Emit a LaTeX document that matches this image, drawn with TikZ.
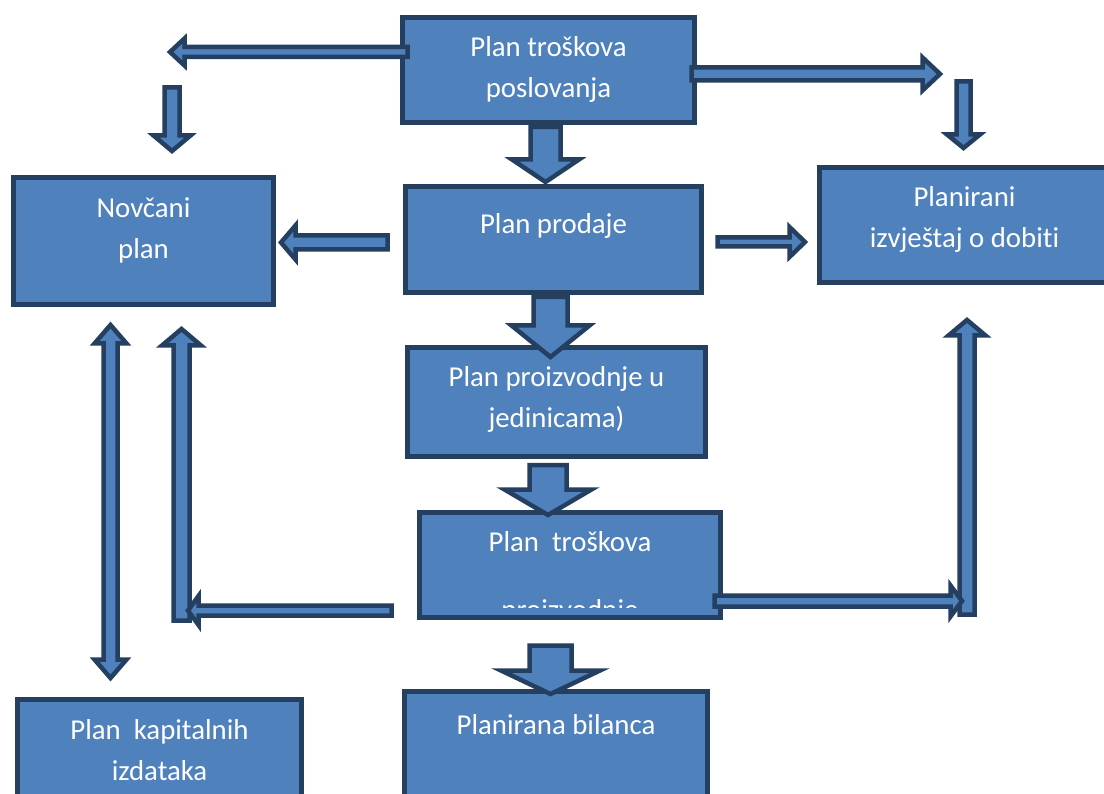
\documentclass[tikz,border=0pt]{standalone}
\usepackage{fontspec}
\setmainfont[Ligatures=NoCommon]{Carlito}
\usepackage{tikz}
\usetikzlibrary{calc,positioning}

\definecolor{planfill}{HTML}{4F81BD}
\definecolor{planline}{HTML}{243F60}

\tikzset{
  plan/.style={draw=planline, fill=planfill, line width=5pt, inner sep=0pt, outer sep=0pt},
  plantext/.style={text=white, inner sep=0pt, align=center, font=\fontsize{28.8}{41}\selectfont},
  barrow/.style={draw=planline, fill=planfill, line width=4.5pt},
}

% block arrow: from, to, shaft half width, head half width, head length
\newcommand{\blockarrow}[5]{%
  \draw[barrow] let \p1=(#1), \p2=(#2),
    \n1={atan2(\y2-\y1,\x2-\x1)}, \n2={veclen(\x2-\x1,\y2-\y1)} in
    [shift={(\p1)}, rotate=\n1]
    (0pt,{#3*1pt}) -- ({(\n2-#5)*1pt},{#3*1pt}) -- ({(\n2-#5)*1pt},{#4*1pt})
    -- ({\n2*1pt},0pt) -- ({(\n2-#5)*1pt},{-#4*1pt}) -- ({(\n2-#5)*1pt},{-#3*1pt})
    -- (0pt,{-#3*1pt}) -- cycle;}
% same, with a head at both ends
\newcommand{\dblockarrow}[5]{%
  \draw[barrow] let \p1=(#1), \p2=(#2),
    \n1={atan2(\y2-\y1,\x2-\x1)}, \n2={veclen(\x2-\x1,\y2-\y1)} in
    [shift={(\p1)}, rotate=\n1]
    (0pt,0pt) -- ({#5*1pt},{#4*1pt}) -- ({#5*1pt},{#3*1pt}) -- ({(\n2-#5)*1pt},{#3*1pt})
    -- ({(\n2-#5)*1pt},{#4*1pt}) -- ({\n2*1pt},0pt) -- ({(\n2-#5)*1pt},{-#4*1pt})
    -- ({(\n2-#5)*1pt},{-#3*1pt}) -- ({#5*1pt},{-#3*1pt}) -- ({#5*1pt},{-#4*1pt}) -- cycle;}

\begin{document}
\begin{tikzpicture}[x=1pt, y=-1pt]
    \useasboundingbox (0,0) rectangle (1104,794);
    \clip (0,0) rectangle (1104,794);

    % boxes
    \node[plan, minimum width=292pt, minimum height=105pt] (troskovi) at (548.5,70) {};
    \node[plan, minimum width=260pt, minimum height=127pt] (novcani) at (143.5,241) {};
    \node[plan, minimum width=296pt, minimum height=106pt] (prodaja) at (553.5,239.5) {};
    \node[plan, minimum width=290pt, minimum height=115pt] (dobit) at (964.5,225) {};
    \node[plan, minimum width=298pt, minimum height=109pt] (proizvodnja) at (556.5,402) {};
    \node[plan, minimum width=301pt, minimum height=105pt] (trosprod) at (570,565) {};
    \node[plan, minimum width=303pt, minimum height=137pt] (bilanca) at (556,760) {};
    \node[plan, minimum width=284pt, minimum height=129pt] (kapital) at (159.5,764) {};

    % texts
    \node[plantext, below=18.5pt of troskovi.north] (troskovi-t) {Plan troškova\\poslovanja};
    \node[plantext, below=19.5pt of novcani.north] (novcani-t) {Novčani\\plan};
    \node[plantext, below=26.5pt of prodaja.north] (prodaja-t) {Plan prodaje};
    \node[plantext, below=18.5pt of dobit.north] (dobit-t) {Planirani\\izvještaj o dobiti};
    \node[plantext, below=18.5pt of proizvodnja.north] (proizvodnja-t) {Plan proizvodnje u\\jedinicama)};
    \begin{scope}
      \clip ($(trosprod.north west)+(2.5pt,-2.5pt)$) rectangle ($(trosprod.south east)+(-2.5pt,10.5pt)$);
      \node[plantext, below=18.5pt of trosprod.north] (trosprod-t) {Plan\ \ troškova\\[27pt]proizvodnje};
    \end{scope}
    \node[plantext, below=22.5pt of bilanca.north] (bilanca-t) {Planirana bilanca};
    \node[plantext, below=19.5pt of kapital.north] (kapital-t) {Plan\ \ kapitalnih\\izdataka};

    % arrow ends
    \coordinate (tl-a) at (407.5,52);    \coordinate (tl-b) at (170,52);
    \coordinate (ld-a) at (172,87.5);    \coordinate (ld-b) at (172,151);
    \coordinate (tr-a) at (691.5,74);    \coordinate (tr-b) at (940,74);
    \coordinate (rd-a) at (963.5,81.5);  \coordinate (rd-b) at (963.5,148);
    \coordinate (m1-a) at (545.5,127);   \coordinate (m1-b) at (545.5,182);
    \coordinate (m2-a) at (550.5,297);   \coordinate (m2-b) at (550.5,357);
    \coordinate (m3-a) at (548,465);     \coordinate (m3-b) at (548,515);
    \coordinate (m4-a) at (550.5,645.5); \coordinate (m4-b) at (550.5,694);
    \coordinate (pl-a) at (387.5,242.5); \coordinate (pl-b) at (281,242.5);
    \coordinate (pr-a) at (717.5,242);   \coordinate (pr-b) at (805,242);
    \coordinate (rv-a) at (967,614.5);   \coordinate (rv-b) at (967,320);
    \coordinate (rh-a) at (714.5,601);   \coordinate (rh-b) at (962,601);
    \coordinate (lv-a) at (181.5,620.5); \coordinate (lv-b) at (181.5,329);
    \coordinate (lh-a) at (391.5,610.5); \coordinate (lh-b) at (188,610.5);
    \coordinate (kv-a) at (110.5,325);   \coordinate (kv-b) at (110.5,678);

    % arrows
    \blockarrow{tl-a}{tl-b}{5}{13.5}{14.5}
    \blockarrow{ld-a}{ld-b}{7.5}{18.5}{15.5}
    \blockarrow{tr-a}{tr-b}{6.5}{16.5}{17.5}
    \blockarrow{rd-a}{rd-b}{7}{16.5}{13.5}
    \blockarrow{m1-a}{m1-b}{15}{33.5}{22.5}
    \blockarrow{m2-a}{m2-b}{17}{39}{31.5}
    \blockarrow{m3-a}{m3-b}{18.5}{43.5}{25.5}
    \blockarrow{m4-a}{m4-b}{21}{49.5}{23.5}
    \blockarrow{pl-a}{pl-b}{7}{17}{14.5}
    \blockarrow{pr-a}{pr-b}{4.5}{15}{15.5}
    \blockarrow{rv-a}{rv-b}{7.5}{18.5}{15.5}
    \blockarrow{rh-a}{rh-b}{5.5}{15.5}{11.5}
    \blockarrow{lv-a}{lv-b}{8}{19.5}{16.5}
    \blockarrow{lh-a}{lh-b}{5}{14.5}{10.5}
    \dblockarrow{kv-a}{kv-b}{7}{16}{18.5}

\end{tikzpicture}
\end{document}
